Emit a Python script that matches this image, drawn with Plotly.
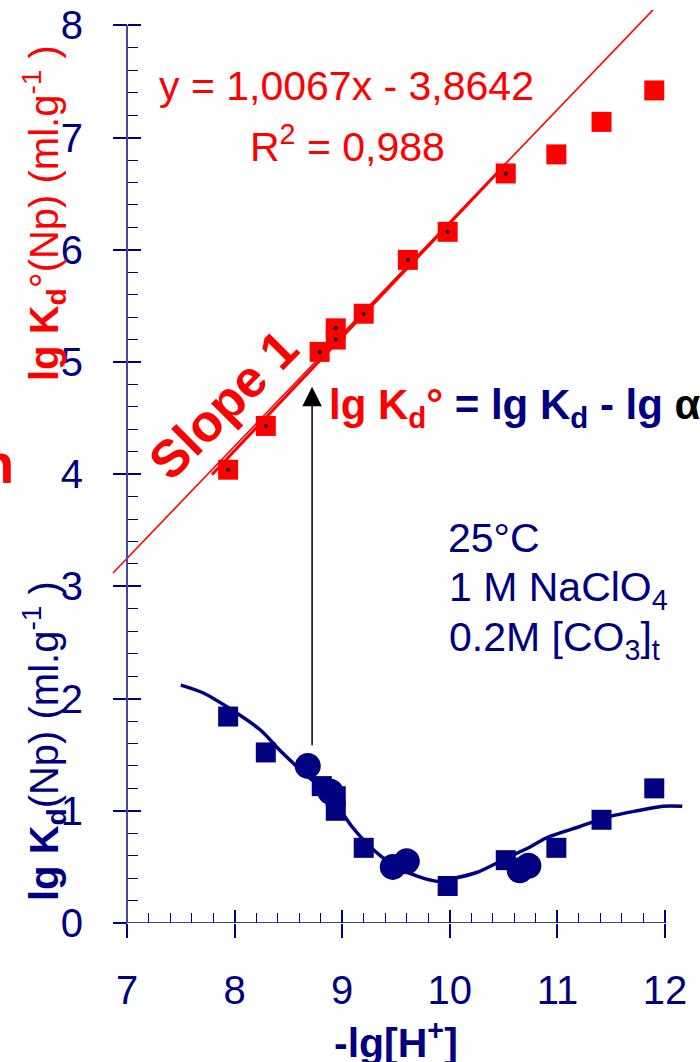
import numpy as np
import plotly.graph_objects as go

# ---------------- data ----------------
x_ticks = [7, 8, 9, 10, 11, 12]
y_ticks = [0, 1, 2, 3, 4, 5, 6, 7, 8]
x_minor = [7.2, 7.4, 7.6, 7.8, 8.2, 8.4, 8.6, 8.8, 9.2, 9.4, 9.6, 9.8,
           10.2, 10.4, 10.6, 10.8, 11.2, 11.4, 11.6, 11.8]
y_minor = [0.2, 0.4, 0.6, 0.8, 1.2, 1.4, 1.6, 1.8, 2.2, 2.4, 2.6, 2.8,
           3.2, 3.4, 3.6, 3.8, 4.2, 4.4, 4.6, 4.8, 5.2, 5.4, 5.6, 5.8,
           6.2, 6.4, 6.6, 6.8, 7.2, 7.4, 7.6, 7.8]

# lg Kd° (red squares)
red_x = [7.94, 8.29, 8.79, 8.94, 8.94, 9.20, 9.61, 9.98, 10.52, 10.99, 11.41, 11.90]
red_y = [4.04, 4.43, 5.09, 5.20, 5.30, 5.43, 5.91, 6.16, 6.68, 6.85, 7.14, 7.42]
n_fit = 9  # points used in the linear fit (marked with a dot)

# lg Kd (blue squares and circles)
blue_sq_x = [7.94, 8.29, 8.81, 8.94, 8.94, 9.20, 9.98, 10.52, 10.99, 11.41, 11.90]
blue_sq_y = [1.84, 1.52, 1.22, 1.13, 1.00, 0.67, 0.33, 0.56, 0.67, 0.92, 1.20]
blue_ci_x = [8.68, 8.89, 9.47, 9.60, 10.65, 10.73]
blue_ci_y = [1.40, 1.17, 0.50, 0.55, 0.47, 0.51]

# model curve (blue line)
curve_x = [7.50, 7.71, 7.94, 8.24, 8.42, 8.64, 8.89, 9.09, 9.26, 9.44, 9.69,
           9.91, 10.00, 10.25, 10.53, 10.75, 10.90, 11.21, 11.49, 11.74, 11.98, 12.16]
curve_y = [2.12, 2.05, 1.92, 1.72, 1.54, 1.34, 1.13, 0.86, 0.68, 0.54, 0.42,
           0.37, 0.39, 0.45, 0.58, 0.68, 0.76, 0.86, 0.95, 1.00, 1.04, 1.04]

# slope-1 guide line
slope1_x = [6.87, 11.89]
slope1_intercept = -3.75

# arrow  lg Kd -> lg Kd°
arrow_x = 8.72
arrow_y = [1.57, 4.78]

RED = "#FF0000"
NAVY = "#000080"
FONT = "Liberation Sans, Arial, sans-serif"

# ---------------- geometry ----------------
W, H = 700, 1062
ML, MR, MT, MB = 110, 0, 10, 139
PW, PH = W - ML - MR, H - MT - MB
XR = [6.842, 12.325]
YR = [0.0, 8.137]


def px(xp):
    return (xp - ML) / PW


def py(yp):
    return (H - MB - yp) / PH


fig = go.Figure()

# slope 1 line (thin)
sx = np.array(slope1_x)
fig.add_trace(go.Scatter(x=sx, y=sx + slope1_intercept, mode="lines",
                         line=dict(color=RED, width=1.6), hoverinfo="skip"))

# linear fit of the first points (thick)
fx = np.array(red_x[:n_fit])
fy = np.array(red_y[:n_fit])
a, b = np.polyfit(fx, fy, 1)
lx = np.array([fx.min() - 0.15, fx.max()])
fig.add_trace(go.Scatter(x=lx, y=a * lx + b, mode="lines",
                         line=dict(color=RED, width=3), hoverinfo="skip"))

fig.add_trace(go.Scatter(x=red_x, y=red_y, mode="markers",
                         marker=dict(symbol="square", size=20, color=RED,
                                     line=dict(width=0))))
fig.add_trace(go.Scatter(x=red_x[:n_fit], y=red_y[:n_fit], mode="markers",
                         marker=dict(symbol="circle", size=4, color="black",
                                     line=dict(width=0))))

fig.add_trace(go.Scatter(x=curve_x, y=curve_y, mode="lines",
                         line=dict(color=NAVY, width=3.5, shape="spline", smoothing=0.8)))
fig.add_trace(go.Scatter(x=blue_sq_x, y=blue_sq_y, mode="markers",
                         marker=dict(symbol="square", size=20, color=NAVY,
                                     line=dict(width=0))))
fig.add_trace(go.Scatter(x=blue_ci_x, y=blue_ci_y, mode="markers",
                         marker=dict(symbol="circle", size=26, color=NAVY,
                                     line=dict(width=0))))

# invisible helpers so the overlay axes (crossing part of major ticks) are drawn
fig.add_trace(go.Scatter(x=[x_ticks[0]], y=[y_ticks[0]], xaxis="x2", yaxis="y",
                         mode="markers", marker=dict(opacity=0), hoverinfo="skip"))
fig.add_trace(go.Scatter(x=[x_ticks[0]], y=[y_ticks[0]], xaxis="x", yaxis="y2",
                         mode="markers", marker=dict(opacity=0), hoverinfo="skip"))

# axis lines
fig.add_shape(type="line", xref="x", yref="y", x0=x_ticks[0], x1=x_ticks[-1],
              y0=y_ticks[0], y1=y_ticks[0], line=dict(color=NAVY, width=1.5))
fig.add_shape(type="line", xref="x", yref="y", x0=x_ticks[0], x1=x_ticks[0],
              y0=y_ticks[0], y1=y_ticks[-1], line=dict(color="#4848a0", width=2))

ypos = px(127)
tickfont = dict(family=FONT, size=40, color=NAVY)
fig.update_layout(
    width=W, height=H, showlegend=False,
    margin=dict(l=ML, r=MR, t=MT, b=MB),
    paper_bgcolor="white", plot_bgcolor="white",
    xaxis=dict(range=XR, tickmode="array", tickvals=x_ticks, ticks="outside",
               ticklen=14, tickwidth=1.5, tickcolor=NAVY, tickfont=tickfont,
               ticklabelstandoff=18, showline=False, showgrid=False, zeroline=False,
               anchor="y",
               minor=dict(tickmode="array", tickvals=x_minor, ticks="inside",
                          ticklen=10, tickwidth=1.2, tickcolor=NAVY, showgrid=False)),
    xaxis2=dict(range=XR, overlaying="x", anchor="y", side="bottom", tickmode="array",
                tickvals=x_ticks, ticks="inside", ticklen=13, tickwidth=1.5,
                tickcolor=NAVY, showticklabels=False, showline=False,
                showgrid=False, zeroline=False),
    yaxis=dict(range=YR, tickmode="array", tickvals=y_ticks, ticks="outside",
               ticklen=14, tickwidth=1.5, tickcolor=NAVY, tickfont=tickfont,
               ticklabelstandoff=22, showline=False, showgrid=False, zeroline=False,
               anchor="free", position=ypos,
               minor=dict(tickmode="array", tickvals=y_minor, ticks="inside",
                          ticklen=10, tickwidth=1.2, tickcolor=NAVY, showgrid=False)),
    yaxis2=dict(range=YR, overlaying="y", anchor="free", position=ypos, side="left",
                tickmode="array", tickvals=y_ticks, ticks="inside", ticklen=13,
                tickwidth=1.5, tickcolor=NAVY, showticklabels=False, showline=False,
                showgrid=False, zeroline=False),
)


def ann(text, x, y, size, color, xanchor="center", angle=0, **kw):
    fig.add_annotation(text=text, x=x, y=y, xref="paper", yref="paper",
                       xanchor=xanchor, yanchor="middle", showarrow=False,
                       textangle=angle,
                       font=dict(family=FONT, size=size, color=color), **kw)


ann("y = 1,0067x - 3,8642", px(346.5), py(86), 41, RED)
ann("R<sup>2</sup> = 0,988", px(347.5), py(144), 41, RED)
ann("25°C", px(446.5), py(538), 41, NAVY, xanchor="left")
ann("1 M NaClO<sub>4</sub>", px(446.5), py(590), 41, NAVY, xanchor="left")
ann("0.2M [CO<sub>3</sub>]<sub>t</sub>", px(446.5), py(640), 41, NAVY, xanchor="left")
ann("<b><span style='color:#FF0000'>lg K<sub>d</sub>°</span> = lg K<sub>d</sub> - lg "
    "<span style='color:black'>α</span></b>", px(327), py(407), 42, NAVY, xanchor="left")
ann("<b>Slope 1</b>", px(223), py(405), 52, RED, angle=-45)
ann("<b>n</b>", px(16), py(463), 56, RED, xanchor="right")
ann("<b>lg K<sub>d</sub></b>°(Np) (ml.g<sup>-1</sup> )", px(44), py(213), 40, RED, angle=-90)
ann("<b>lg K<sub>d</sub></b>(Np) (ml.g<sup>-1</sup> )", px(44), py(741), 40, NAVY, angle=-90)
ann("<b>-lg[H<sup>+</sup>]</b>", px(396), py(1040), 41, NAVY)

fig.add_annotation(x=arrow_x, y=arrow_y[1], ax=arrow_x, ay=arrow_y[0],
                   xref="x", yref="y", axref="x", ayref="y", text="",
                   showarrow=True, arrowhead=2, arrowsize=2.6, arrowwidth=1.5,
                   arrowcolor="black", standoff=0)

fig.write_html("out.html")
